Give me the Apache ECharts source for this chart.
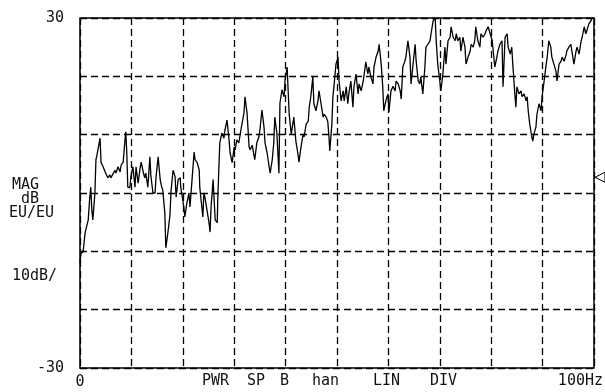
<!DOCTYPE html>
<html>
<head>
<meta charset="utf-8">
<script src="https://cdn.jsdelivr.net/npm/echarts@6/dist/echarts.min.js"></script>
<style>
html,body{margin:0;padding:0;background:#fff;}
#chart{width:605px;height:392px;}
</style>
</head>
<body>
<div id="chart"></div>
<script>
// Frequency (Hz) of each sample
var freqHz = [
0.0,0.2,0.6,1.0,1.2,1.6,1.9,2.1,2.3,2.5,2.9,3.1,3.3,3.9,4.1,4.5,4.9,5.1,5.4,5.8,6.0,6.8,7.0,7.4,7.8,8.0,8.4,8.8,8.9,9.1,9.3,9.7,9.9,10.3,10.7,10.9,11.3,11.7,11.9,12.3,12.6,12.8,13.2,13.6,13.8,14.2,14.6,14.8,15.2,15.6,15.8,16.1,16.5,16.7,17.1,17.5,17.7,18.1,18.5,18.7,19.1,19.5,19.6,
19.8,20.2,20.4,20.8,21.2,21.4,21.8,22.2,22.4,22.8,23.2,23.3,23.7,23.9,24.1,24.3,24.7,25.1,25.3,25.5,25.9,26.1,26.3,26.7,26.8,27.0,27.2,27.6,28.0,28.2,28.6,29.0,29.2,29.6,30.0,30.2,30.5,30.9,31.3,31.9,32.1,32.5,32.9,33.1,33.5,33.9,34.0,34.4,34.8,35.0,35.4,35.8,36.0,36.4,36.8,37.0,37.4,37.7,37.9,38.3,38.7,38.9,39.3,39.7,39.9,
40.3,40.5,40.7,41.1,41.4,41.6,42.0,42.4,42.6,43.0,43.4,43.6,44.0,44.4,44.6,44.9,45.3,45.5,45.9,46.3,46.5,46.9,47.3,47.5,47.9,48.2,48.4,48.6,49.0,49.2,49.4,49.8,50.2,50.4,50.8,51.2,51.4,51.8,52.1,52.3,52.7,53.1,53.3,53.7,54.1,54.3,54.7,55.1,55.3,55.6,56.0,56.2,56.6,57.0,57.2,57.6,58.0,58.2,58.6,58.9,59.1,59.5,59.9,60.1,60.5,
60.9,61.3,61.5,61.9,62.3,62.5,62.8,63.2,63.4,63.8,64.2,64.4,64.8,65.2,65.4,65.8,66.1,66.3,66.7,67.1,67.3,67.7,68.1,68.3,68.7,69.1,69.3,69.6,70.0,70.2,70.6,71.0,71.2,71.6,72.0,72.2,72.6,73.0,73.2,73.5,73.9,74.1,74.5,74.9,75.1,75.5,75.9,76.1,76.5,76.8,77.0,77.4,77.8,78.0,78.4,78.8,79.0,79.4,79.8,
80.2,80.4,80.7,81.1,81.3,81.7,82.1,82.3,82.7,83.1,83.3,83.7,84.0,84.2,84.6,84.8,85.0,85.4,85.8,86.0,86.4,86.8,87.0,87.2,87.5,87.9,88.1,88.3,88.7,88.9,89.3,89.7,89.9,90.3,90.7,90.9,91.2,91.6,91.8,92.2,92.6,92.8,93.2,93.6,93.8,94.2,94.6,94.7,95.1,95.5,95.7,96.1,96.5,96.7,97.1,97.5,97.7,98.1,98.4,98.6,99.0,99.4,99.6,100.0
];
// Magnitude (dB EU/EU) of each sample
var magDb = [
-12.0,-10.3,-10.1,-6.8,-6.7,-4.6,-0.7,1.0,-2.9,-4.6,0.0,5.7,6.5,9.4,5.2,4.5,3.6,3.9,2.6,3.1,2.6,3.9,3.4,4.5,3.6,4.8,5.3,9.6,10.5,7.0,1.0,0.9,2.8,4.5,1.0,4.5,1.7,4.3,5.3,3.6,2.6,3.4,1.0,6.2,2.8,0.0,0.0,2.8,6.2,2.3,1.4,0.5,-3.4,-9.4,-6.8,-3.8,0.2,3.9,2.8,-0.7,2.3,2.6,1.0,
1.0,-2.4,-4.1,-1.7,0.0,-2.4,2.3,7.0,5.7,5.2,3.9,1.0,-2.4,-4.1,0.0,-0.7,-2.9,-5.1,-6.7,-2.4,2.3,-1.2,-4.6,-5.1,-1.2,3.9,8.6,10.3,9.4,10.8,12.5,9.1,6.9,5.2,7.9,7.4,9.1,8.6,10.8,13.7,16.5,13.7,7.9,7.4,8.2,6.2,5.7,8.6,9.6,10.8,14.2,11.3,8.6,6.9,4.5,3.4,5.7,8.6,13.0,10.3,3.4,15.4,17.7,16.5,19.4,
21.6,17.5,13.5,10.1,11.8,13.0,8.9,6.7,5.3,7.9,10.1,9.6,11.8,12.3,14.7,16.5,19.9,15.3,14.1,15.8,17.5,15.3,13.0,13.5,13.0,12.3,10.1,7.2,11.8,16.5,18.2,22.1,23.3,19.2,15.8,17.5,15.8,18.2,15.3,17.0,19.2,14.7,18.2,20.4,17.0,18.7,17.5,19.2,20.4,22.5,20.4,21.6,19.9,18.7,21.6,23.3,24.3,25.5,22.1,18.2,14.1,15.8,17.0,13.9,17.5,
18.3,17.5,19.2,18.7,17.5,16.1,21.6,22.6,23.3,26.1,23.3,18.7,22.1,25.5,22.6,19.2,18.7,19.9,17.0,21.6,25.0,25.5,26.1,27.3,29.5,30.0,26.1,22.1,19.2,17.5,20.4,25.0,22.1,26.1,26.7,28.5,26.7,26.1,27.3,26.1,26.7,24.3,26.7,25.0,22.1,23.3,24.3,25.5,25.0,26.1,28.5,26.1,25.0,27.3,26.7,27.3,27.8,28.5,27.3,
26.1,24.3,21.6,23.3,24.3,25.5,26.1,18.2,26.7,27.3,25.0,23.8,25.0,22.1,17.0,14.7,18.2,17.0,17.5,16.5,17.0,15.8,16.5,14.1,11.8,9.6,8.9,10.1,11.3,13.5,15.3,14.1,16.5,19.2,22.1,23.3,26.1,25.0,23.3,22.1,20.9,19.2,22.1,22.6,23.3,22.6,23.8,24.3,25.0,25.5,24.3,22.1,24.3,25.0,23.8,26.1,26.7,28.5,27.3,27.8,29.0,29.5,30.0,30.0
];
var yTicks = [-30, 30];
var xTicks = [0];
var refLevelDb = 2.7;

var traceData = freqHz.map(function (f, i) { return [f, magDb[i]]; });

var chart = echarts.init(document.getElementById('chart'), null, {renderer: 'canvas'});
var FONT = 'DejaVu Sans Mono';
var txt = function (x, y, s, align) {
  return {type: 'text', left: undefined, x: x, y: y, style: {text: s, fill: '#111', font: '15px "' + FONT + '"', textAlign: align || 'left', textVerticalAlign: 'middle'}};
};
chart.setOption({
  animation: false,
  backgroundColor: '#fff',
  grid: {left: 80, right: 11, top: 18, bottom: 24, show: true, borderColor: '#000', borderWidth: 1.5, backgroundColor: 'transparent'},
  xAxis: {
    type: 'value', min: 0, max: 100, interval: 10,
    axisLine: {show: false}, axisTick: {show: false},
    axisLabel: {margin: 7, color: '#111', fontFamily: FONT, fontSize: 15,
      formatter: function (v) { return xTicks.indexOf(v) >= 0 ? String(v) : ''; }},
    splitLine: {show: true, lineStyle: {color: '#000', width: 1.3, type: [7, 4]}}
  },
  yAxis: {
    type: 'value', min: -30, max: 30, interval: 10,
    axisLine: {show: false}, axisTick: {show: false},
    axisLabel: {margin: 16, color: '#111', fontFamily: FONT, fontSize: 15,
      formatter: function (v) { return yTicks.indexOf(v) >= 0 ? String(v) : ''; }},
    splitLine: {show: true, lineStyle: {color: '#000', width: 1.3, type: [7, 4]}}
  },
  series: [{
    type: 'line', data: traceData, showSymbol: false, clip: true,
    lineStyle: {color: '#000', width: 1.3},
    markPoint: {
      silent: true,
      symbol: 'path://M0,5 L10,0 L10,10 Z', symbolSize: [10, 10], symbolOffset: [6, 0],
      itemStyle: {color: '#fff', borderColor: '#000', borderWidth: 1},
      label: {show: false},
      data: [{coord: [100, refLevelDb]}]
    }
  }],
  graphic: [
    txt(12, 185, 'MAG'),
    txt(21, 199, 'dB'),
    txt(9, 213, 'EU/EU'),
    txt(12, 276, '10dB/'),
    txt(202, 381, 'PWR'),
    txt(247, 381, 'SP'),
    txt(280, 381, 'B'),
    txt(312, 381, 'han'),
    txt(373, 381, 'LIN'),
    txt(430, 381, 'DIV'),
    txt(603, 381, '100Hz', 'right')
  ]
});
</script>
</body>
</html>
